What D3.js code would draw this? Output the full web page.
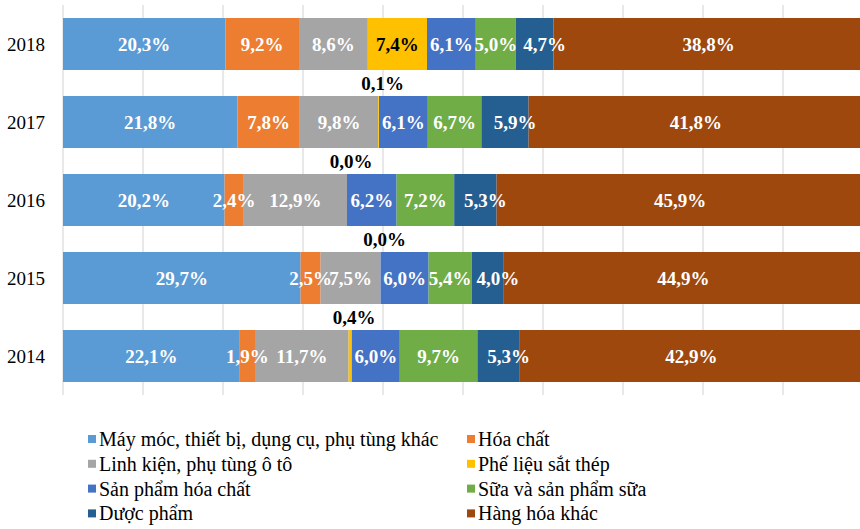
<!DOCTYPE html>
<html><head><meta charset="utf-8">
<script src="https://cdn.jsdelivr.net/npm/d3@7"></script>
<style>body{margin:0;background:#fff}svg{display:block}</style>
</head><body><svg id="c" width="860" height="529"></svg>
<script>
const years = ["2018","2017","2016","2015","2014"];
const seriesNames = ["Máy móc, thiết bị, dụng cụ, phụ tùng khác","Hóa chất","Linh kiện, phụ tùng ô tô","Phế liệu sắt thép","Sản phẩm hóa chất","Sữa và sản phẩm sữa","Dược phẩm","Hàng hóa khác"];
const colors = ["#5B9BD5","#ED7D31","#A5A5A5","#FFC000","#4472C4","#70AD47","#255E91","#9E480E"];
const mayMoc   = [20.3,21.8,20.2,29.7,22.1];
const hoaChat  = [9.2,7.8,2.4,2.5,1.9];
const linhKien = [8.6,9.8,12.9,7.5,11.7];
const pheLieu  = [7.4,0.1,0.0,0.0,0.4];
const spHoaChat= [6.1,6.1,6.2,6.0,6.0];
const sua      = [5.0,6.7,7.2,5.4,9.7];
const duocPham = [4.7,5.9,5.3,4.0,5.3];
const khac     = [38.8,41.8,45.9,44.9,42.9];
const xTicks = [0,10,20,30,40,50,60,70,80,90,100];

const FONT = "Liberation Serif";
const seriesVals = [mayMoc,hoaChat,linhKien,pheLieu,spHoaChat,sua,duocPham,khac];
const rows = years.map((y,i)=>{const o={year:y}; seriesNames.forEach((s,j)=>o[s]=seriesVals[j][i]); return o;});
const stack = d3.stack().keys(seriesNames)(rows);

const svg = d3.select("#c");
const x = d3.scaleLinear().domain([0,100]).range([63,863]);
const y = d3.scaleBand().domain(years).range([5,395]).paddingInner(1/3).paddingOuter(1/6);

// gridlines
svg.append("g").selectAll("line").data(xTicks).join("line")
  .attr("x1",d=>x(d)).attr("x2",d=>x(d)).attr("y1",5).attr("y2",395)
  .attr("stroke","#d9d9d9").attr("stroke-width",1.2);

// bars
const g = svg.append("g");
stack.forEach((s,j)=>{
  g.append("g").attr("fill",colors[j]).selectAll("rect").data(s).join("rect")
    .attr("x",d=>x(d[0])).attr("width",d=>Math.max(0,x(d[1])-x(d[0])))
    .attr("y",d=>y(d.data.year)).attr("height",y.bandwidth());
});

// labels (Dược phẩm labels sit a little right of centre, as in the source)
const labShift = [0,0,0,0,0,0,10,0];
const lab = svg.append("g");
stack.forEach((s,j)=>{
  s.forEach(d=>{
    const v = d[1]-d[0];
    const txt = d3.format(".1f")(v).replace(".",",")+"%";
    const cx = (x(d[0])+x(d[1]))/2 + labShift[j];
    const t = lab.append("text").attr("font-family",FONT).attr("font-weight","bold").attr("font-size",19).attr("text-anchor","middle");
    if (j===3 && v<1) {
      t.attr("x",cx+4).attr("y",y(d.data.year)-6.5).attr("fill","#000").text(txt);
    } else {
      t.attr("x",cx).attr("y",y(d.data.year)+y.bandwidth()/2).attr("dy","0.35em")
        .attr("fill", j===3 ? "#000" : "#fff").text(txt);
    }
  });
});

// year axis labels
svg.append("g").selectAll("text").data(years).join("text")
  .attr("font-family",FONT).attr("font-size",19).attr("text-anchor","end")
  .attr("x",45).attr("y",d=>y(d)+y.bandwidth()/2).attr("dy","0.35em").attr("fill","#000").text(d=>d);

// legend
const leg = svg.append("g");
seriesNames.forEach((s,j)=>{
  const col = j%2, row = Math.floor(j/2);
  const lx = col===0 ? 88 : 467, base = 446 + row*24.8;
  leg.append("rect").attr("x",lx).attr("y",base-11).attr("width",8).attr("height",8).attr("fill",colors[j]);
  leg.append("text").attr("font-family",FONT).attr("font-size",20)
    .attr("x",lx+11).attr("y",base).attr("fill","#000").text(s);
});
</script></body></html>
